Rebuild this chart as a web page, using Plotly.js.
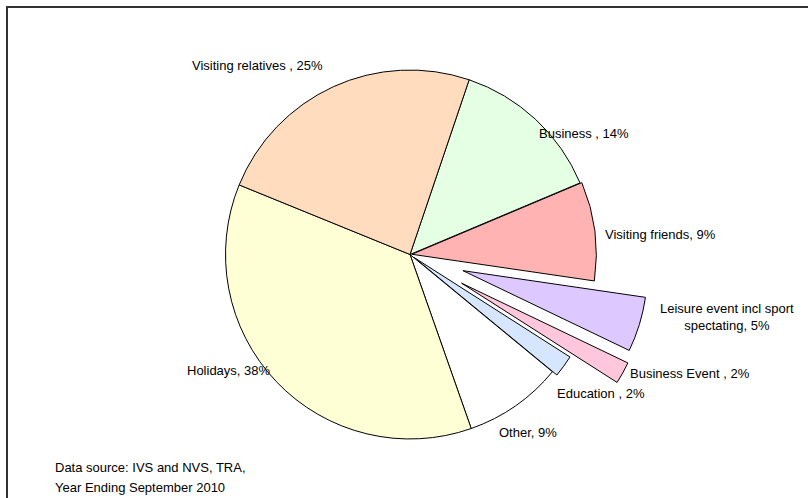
<!DOCTYPE html>
<html>
<head>
<meta charset="utf-8">
<script src="https://cdn.plot.ly/plotly-3.0.1.min.js"></script>
<style>html,body{margin:0;padding:0;background:#fff;}#chart{width:808px;height:498px;}</style>
</head>
<body>
<div id="chart"></div>
<script>
// Data (clockwise from Business)
var categories = ["Business", "Visiting friends", "Leisure event incl sport<br>spectating", "Business Event", "Education", "Other", "Holidays", "Visiting relatives"];
var shares = [14, 9, 5, 2, 2, 9, 38, 25];
var labelSep = [" , ", ", ", ", ", " , ", " , ", ", ", ", ", " , "];
var sourceNote = ["Data source: IVS and NVS, TRA,", "Year Ending September 2010"];

var colors = ["#E4FFE4", "#FFB3B3", "#DDC9FF", "#FFC6DC", "#D6E6FF", "#FFFFFF", "#FFFFD6", "#FFDCBE"];
var pulls = [0, 0.01, 0.3, 0.32, 0.03, 0, 0, 0];

// label positions (pixels) for each category
var labelPos = [[584, 133], [660, 234], [727, 317], [690, 373], [601, 393], [528, 432], [229, 370], [257, 66]];
var notePos = [[53, 467], [53, 487]];

var W = 808, H = 498;
var FONT = "Liberation Sans, Arial, sans-serif";
var annotations = categories.map(function (c, i) {
  return {
    text: c + labelSep[i] + shares[i] + "%",
    x: labelPos[i][0] / W, y: 1 - labelPos[i][1] / H,
    xref: "paper", yref: "paper", xanchor: "center", yanchor: "middle",
    showarrow: false, align: "center",
    font: {family: FONT, size: 13, color: "#000"}
  };
});
sourceNote.forEach(function (s, i) {
  annotations.push({
    text: s, x: notePos[i][0] / W, y: 1 - notePos[i][1] / H,
    xref: "paper", yref: "paper", xanchor: "left", yanchor: "middle",
    showarrow: false, align: "left",
    font: {family: FONT, size: 13, color: "#000"}
  });
});

var trace = {
  type: "pie",
  labels: categories,
  values: shares,
  sort: false,
  direction: "clockwise",
  rotation: 18.7,
  pull: pulls,
  textinfo: "none",
  hoverinfo: "label+value",
  marker: {colors: colors, line: {color: "#000", width: 1}},
  domain: {x: [12 / W, 1], y: [0, 1 - 11 / H]},
  showlegend: false
};

var layout = {
  width: W, height: H,
  margin: {l: 0, r: 0, t: 0, b: 0},
  paper_bgcolor: "#fff",
  showlegend: false,
  annotations: annotations,
  shapes: [{
    type: "rect", xref: "paper", yref: "paper",
    x0: 7 / W, x1: 1.05, y0: -0.05, y1: 1 - 7 / H,
    line: {color: "#333", width: 2}, fillcolor: "rgba(0,0,0,0)", layer: "below"
  }]
};

Plotly.newPlot("chart", [trace], layout, {displayModeBar: false, staticPlot: true});
</script>
</body>
</html>
